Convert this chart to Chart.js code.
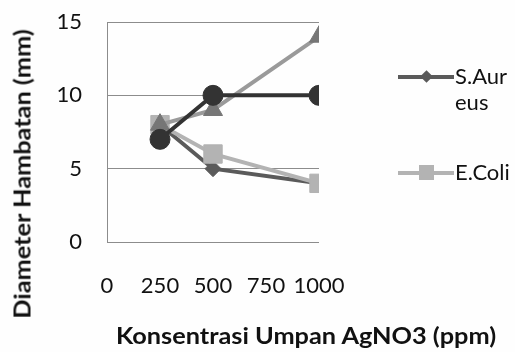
<!DOCTYPE html>
<html>
<head>
<meta charset="utf-8">
<script src="https://cdn.jsdelivr.net/npm/chart.js@4"></script>
<style>
  body { margin: 0; background: #fff; }
  #wrap { position: relative; width: 515px; height: 352px; background: #fefefe; font-family: Lato, sans-serif; color: #111; }
  #myChart { position: absolute; left: 0; top: 0; }
  .title { position: absolute; font-weight: bold; font-size: 22px; white-space: nowrap; }
  #ytitle { left: 22px; top: 174px; transform: translate(-50%, -50%) rotate(-90deg) scaleX(1.15); }
  #xtitle { left: 306px; top: 335px; transform: translate(-50%, -50%) scaleX(1.15); }
  .leg { position: absolute; left: 398px; width: 56px; height: 4px; }
  .leg .ln { position: absolute; left: 0; top: 0; width: 56px; height: 4px; }
  .leg .mk { position: absolute; }
  .legtxt { position: absolute; left: 455px; font-size: 22px; line-height: 26px; }
</style>
</head>
<body>
<div id="wrap">
  <canvas id="myChart" width="515" height="352"></canvas>
  <div class="title" id="ytitle">Diameter Hambatan (mm)</div>
  <div class="title" id="xtitle">Konsentrasi Umpan AgNO3 (ppm)</div>

  <div class="leg" style="top:75px">
    <div class="ln" style="background:#5a5a5a"></div>
    <div class="mk" style="left:24px;top:-3px;width:9px;height:9px;background:#5a5a5a;transform:rotate(45deg)"></div>
  </div>
  <div class="legtxt" style="top:63px">S.Aur<br>eus</div>

  <div class="leg" style="top:171px">
    <div class="ln" style="background:#b3b3b3"></div>
    <div class="mk" style="left:21px;top:-6px;width:15px;height:15px;background:#b3b3b3"></div>
  </div>
  <div class="legtxt" style="top:159px">E.Coli</div>
</div>
<script>
// konsentrasi (ppm)
var konsentrasi = [250, 500, 1000];
// diameter hambatan (mm)
var sAureus = [8, 5, 4];
var eColi = [8, 6, 4];
var seri3 = [8, 9, 14];
var seri4 = [7, 10, 10];
var xTicks = [0, 250, 500, 750, 1000];
var yTicks = [0, 5, 10, 15];

var toPoints = (ys) => ys.map((y, i) => ({x: konsentrasi[i], y: y}));

const ctx = document.getElementById('myChart');

var chart = new Chart(ctx, {
  type: 'line',
  data: {
    datasets: [{
      label: 'S.Aureus',
      data: toPoints(sAureus),
      borderColor: '#5a5a5a',
      borderWidth: 4,
      pointStyle: 'rectRot',
      pointRadius: 8,
      pointBackgroundColor: '#5a5a5a',
      pointBorderColor: '#5a5a5a',
      pointBorderWidth: 1,
      order: 4
    }, {
      label: 'E.Coli',
      data: toPoints(eColi),
      borderColor: '#b3b3b3',
      borderWidth: 4,
      pointStyle: 'rect',
      pointRadius: 13,
      pointBackgroundColor: '#b3b3b3',
      pointBorderColor: '#b3b3b3',
      pointBorderWidth: 1,
      order: 3
    }, {
      label: 'Seri 3',
      data: toPoints(seri3),
      borderColor: '#9a9a9a',
      borderWidth: 4,
      pointStyle: 'triangle',
      pointRadius: 11,
      pointBackgroundColor: '#767676',
      pointBorderColor: '#767676',
      pointBorderWidth: 1,
      order: 2
    }, {
      label: 'Seri 4',
      data: toPoints(seri4),
      borderColor: '#333333',
      borderWidth: 4,
      pointStyle: 'circle',
      pointRadius: 10,
      pointBackgroundColor: '#333333',
      pointBorderColor: '#333333',
      pointBorderWidth: 1,
      order: 1
    }]
  },
  options: {
    responsive: false,
    animation: false,
    layout: {
      autoPadding: false,
      padding: {left: 0, right: 196, top: 22, bottom: 0}
    },
    plugins: {
      legend: { display: false },
      tooltip: { enabled: false }
    },
    scales: {
      x: {
        type: 'linear',
        min: 0,
        max: 1000,
        afterBuildTicks: (scale) => {
          scale.ticks = xTicks.map(v => ({value: v}));
        },
        afterFit: (scale) => {
          scale.height = 110;
          scale.paddingLeft = 0;
          scale.paddingRight = 0;
        },
        grid: { display: false },
        border: { display: false },
        ticks: {
          padding: 23,
          autoSkip: false,
          maxRotation: 0,
          minRotation: 0,
          color: '#111',
          font: {family: 'Lato', size: 22},
          callback: (v) => String(v)
        }
      },
      y: {
        min: 0,
        max: 15,
        afterBuildTicks: (scale) => {
          scale.ticks = yTicks.map(v => ({value: v}));
        },
        afterFit: (scale) => {
          scale.width = 107;
          // tick padding should not push the plot area down
          scale.paddingTop = 0;
          scale.paddingBottom = 0;
        },
        grid: { color: '#8c8c8c', lineWidth: 1, drawTicks: false },
        border: { display: true, color: '#8c8c8c', width: 1 },
        ticks: {
          padding: 25,
          color: '#111',
          font: {family: 'Lato', size: 22}
        }
      }
    }
  }
});
</script>
</body>
</html>
